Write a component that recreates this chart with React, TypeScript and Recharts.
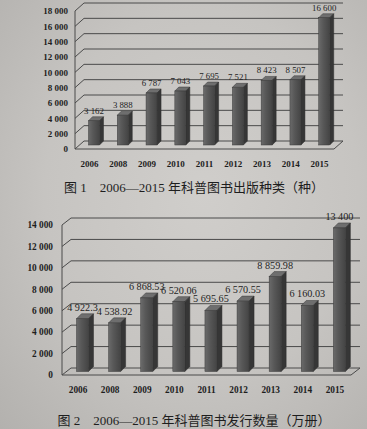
import { BarChart, Bar, XAxis, YAxis, CartesianGrid, LabelList } from "recharts";

const years = ["2006", "2008", "2009", "2010", "2011", "2012", "2013", "2014", "2015"];
// 图1 出版种类（种）
const kinds = [3162, 3888, 6787, 7043, 7695, 7521, 8423, 8507, 16600];
// 图2 发行数量（万册）
const copies = [4922.3, 4538.92, 6868.53, 6520.06, 5695.65, 6570.55, 8859.98, 6160.03, 13400];
const ticks1 = [0, 2000, 4000, 6000, 8000, 10000, 12000, 14000, 16000, 18000];
const ticks2 = [0, 2000, 4000, 6000, 8000, 10000, 12000, 14000];

const title1 = "图 1　2006—2015 年科普图书出版种类（种）";
const title2 = "图 2　2006—2015 年科普图书发行数量（万册）";

const SERIF = "'Liberation Serif', 'Times New Roman', serif";
const CJK = "'Liberation Serif', 'Noto Sans CJK SC', serif";

// 千分位用空格
const fmt = (v: number) => {
  const [i, d] = String(v).split(".");
  const g = i.replace(/\B(?=(\d{3})+(?!\d))/g, " ");
  return d ? `${g}.${d}` : g;
};

type Geo = {
  id: string;
  top: number;
  height: number;
  left: number; // plot front-left x
  right: number; // plot front-right x
  plotTop: number;
  plotBottom: number;
  dx: number;
  dy: number;
  barW: number;
  depth: number;
  tickFont: number;
  labelFont: number;
  xTickMargin: number;
  yTickMargin: number;
};

function Chart3D({ values, ticks, g }: { values: number[]; ticks: number[]; g: Geo }) {
  const data = years.map((y, i) => ({ year: y, v: values[i] }));
  const sx = g.dx / 2;
  const sy = -g.dy / 2;

  const grid = (p: any) => {
    const { x1, x2, y1 } = p;
    const isFloor = Math.abs(y1 - g.plotBottom) < 1;
    if (isFloor) {
      return (
        <g key={p.key}>
          <line x1={x1} y1={g.plotTop} x2={x1} y2={y1} stroke="#4a4a4a" strokeWidth={1} />
          <polygon
            points={`${x1},${y1} ${x1 + g.dx},${y1 - g.dy} ${x2 + g.dx},${y1 - g.dy} ${x2},${y1}`}
            fill="none"
            stroke="#4a4a4a"
            strokeWidth={1}
          />
        </g>
      );
    }
    return (
      <polyline
        key={p.key}
        points={`${x1},${y1} ${x1 + g.dx},${y1 - g.dy} ${x2 + g.dx},${y1 - g.dy}`}
        fill="none"
        stroke="#4a4a4a"
        strokeWidth={1}
      />
    );
  };

  const box = (p: any) => {
    const { x, y, width, height } = p;
    if (height == null || height <= 0) return <g />;
    const bx = x + sx;
    const by = y + sy;
    const d = g.depth;
    return (
      <g>
        <polygon
          points={`${bx},${by} ${bx + d},${by - d} ${bx + width + d},${by - d} ${bx + width},${by}`}
          fill="#6e6e6e"
          stroke="#3a3a3a"
          strokeWidth={0.5}
        />
        <polygon
          points={`${bx + width},${by} ${bx + width + d},${by - d} ${bx + width + d},${by + height - d} ${bx + width},${by + height}`}
          fill="#363636"
          stroke="#2e2e2e"
          strokeWidth={0.5}
        />
        <rect x={bx} y={by} width={width} height={height} fill={`url(#front-${g.id})`} stroke="#3a3a3a" strokeWidth={0.5} />
      </g>
    );
  };

  const label = (p: any) => (
    <text
      x={p.x + p.width / 2 + sx}
      y={p.y + sy - g.depth - 3}
      textAnchor="middle"
      fontFamily={SERIF}
      fontSize={g.labelFont}
      fill="#1e1e1e"
    >
      {fmt(p.value)}
    </text>
  );

  return (
    <div style={{ position: "absolute", left: 0, top: g.top }}>
      <BarChart
        width={367}
        height={g.height}
        data={data}
        barCategoryGap={0}
        margin={{ top: g.plotTop, right: 367 - g.right, bottom: 0, left: 0 }}
      >
        <defs>
          <linearGradient id={`front-${g.id}`} x1="0" y1="0" x2="1" y2="0">
            <stop offset="0%" stopColor="#6a6a6a" />
            <stop offset="40%" stopColor="#585858" />
            <stop offset="100%" stopColor="#444" />
          </linearGradient>
        </defs>
        <CartesianGrid vertical={false} horizontal={grid} />
        <XAxis
          dataKey="year"
          axisLine={false}
          tickLine={false}
          tickSize={0}
          tickMargin={g.xTickMargin}
          height={g.height - g.plotBottom}
          interval={0}
          tick={{ fontFamily: SERIF, fontSize: g.tickFont, fontWeight: "bold", fill: "#1e1e1e" }}
        />
        <YAxis
          width={g.left}
          domain={[ticks[0], ticks[ticks.length - 1]]}
          ticks={ticks}
          interval={0}
          axisLine={false}
          tickLine={false}
          tickSize={0}
          tickMargin={g.yTickMargin}
          tickFormatter={fmt}
          tick={{ fontFamily: SERIF, fontSize: g.tickFont, fontWeight: "bold", fill: "#1e1e1e" }}
        />
        <Bar dataKey="v" barSize={g.barW} shape={box} isAnimationActive={false}>
          <LabelList dataKey="v" content={label} />
        </Bar>
      </BarChart>
    </div>
  );
}

const geo1: Geo = {
  id: "a",
  top: 0,
  height: 176,
  left: 75,
  right: 334,
  plotTop: 11,
  plotBottom: 149,
  dx: 9,
  dy: 8,
  barW: 11,
  depth: 4,
  tickFont: 9,
  labelFont: 8.8,
  xTickMargin: 12,
  yTickMargin: 7,
};

const geo2: Geo = {
  id: "b",
  top: 195,
  height: 210,
  left: 62,
  right: 351,
  plotTop: 30,
  plotBottom: 180,
  dx: 9,
  dy: 7,
  barW: 12,
  depth: 5,
  tickFont: 9.3,
  labelFont: 10.2,
  xTickMargin: 11,
  yTickMargin: 9,
};

const titleStyle = {
  position: "absolute" as const,
  left: 0,
  width: 388,
  textAlign: "center" as const,
  fontFamily: CJK,
  fontSize: 13,
  lineHeight: "13px",
  color: "#1e1e1e",
  whiteSpace: "pre" as const,
};

export default function App() {
  return (
    <div
      style={{
        position: "relative",
        width: 367,
        height: 429,
        overflow: "hidden",
        background: "radial-gradient(ellipse at 55% 45%, #d0cecb 0%, #c6c4c1 55%, #b3b1ae 100%)",
      }}
    >
      <style>{"body{margin:0}"}</style>
      <Chart3D values={kinds} ticks={ticks1} g={geo1} />
      <div style={{ ...titleStyle, top: 181 }}>{title1}</div>
      <Chart3D values={copies} ticks={ticks2} g={geo2} />
      <div style={{ ...titleStyle, top: 414 }}>{title2}</div>
    </div>
  );
}
